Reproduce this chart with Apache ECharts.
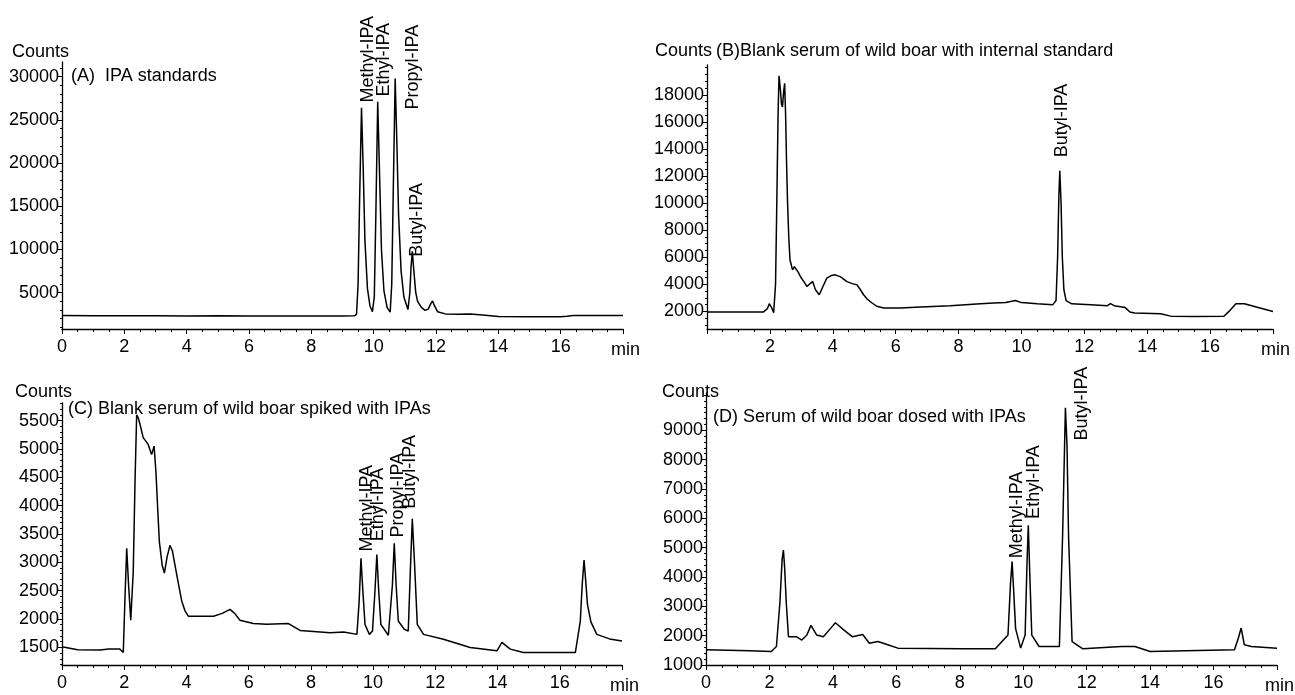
<!DOCTYPE html>
<html>
<head>
  <meta charset="UTF-8">
  <title>IPA chromatograms</title>
  <script src="https://cdn.jsdelivr.net/npm/echarts@6/dist/echarts.min.js"></script>
  <style>
    html, body { margin: 0; padding: 0; background: #fff; }
    #main { width: 1295px; height: 695px; }
  </style>
</head>
<body>
<div id="main"></div>
<script>
  // chromatogram traces, [time (min), counts]
  var traceA = [[0,2350],[1,2340],[2,2320],[3,2330],[4,2300],[5,2320],[6,2300],[7,2310],[8,2300],[9,2310],[9.38,2330],[9.45,2500],[9.5,6000],[9.55,16000],[9.61,26400],[9.66,20000],[9.72,11000],[9.8,5500],[9.88,3500],[9.96,2800],[10.02,4500],[10.07,14000],[10.13,27100],[10.18,20000],[10.25,10000],[10.33,5200],[10.43,3300],[10.53,2750],[10.58,6000],[10.63,17000],[10.69,29800],[10.74,23000],[10.8,14000],[10.88,7500],[10.97,4500],[11.1,3050],[11.16,5000],[11.2,8000],[11.24,9800],[11.29,7500],[11.35,5000],[11.41,4000],[11.46,3900],[11.53,3300],[11.65,2950],[11.75,3100],[11.83,3700],[11.89,4050],[11.95,3500],[12.05,2800],[12.3,2550],[12.7,2500],[13.1,2550],[13.5,2420],[14,2250],[15,2230],[16,2220],[16.2,2280],[16.4,2360],[17,2350],[18,2350]];
  var traceB = [[0,1950],[1,1950],[1.8,1960],[1.92,2200],[1.98,2570],[2.05,2300],[2.12,1900],[2.18,4000],[2.22,10000],[2.26,16500],[2.29,19400],[2.33,18500],[2.37,17300],[2.4,17100],[2.44,18300],[2.47,18850],[2.5,16500],[2.53,13000],[2.56,10200],[2.6,7500],[2.64,5800],[2.72,5070],[2.78,5300],[2.83,5430],[2.9,4900],[2.97,4580],[3.08,4200],[3.18,3840],[3.28,4050],[3.36,4200],[3.45,3600],[3.57,3230],[3.68,3800],[3.81,4460],[3.95,4650],[4.08,4700],[4.25,4550],[4.45,4200],[4.62,4050],[4.77,3960],[4.88,3600],[4.98,3230],[5.1,2900],[5.25,2620],[5.4,2380],[5.62,2250],[6.15,2250],[6.8,2320],[7.74,2420],[8.69,2570],[9.12,2620],[9.5,2650],[9.81,2810],[10,2650],[10.5,2560],[11,2500],[11.1,2800],[11.15,6000],[11.19,10500],[11.22,12380],[11.26,10000],[11.3,6000],[11.35,3600],[11.42,2800],[11.6,2560],[12.2,2500],[12.73,2420],[12.83,2570],[12.95,2420],[13.3,2280],[13.45,1950],[13.6,1880],[14.43,1830],[14.75,1650],[15.5,1630],[16.44,1640],[16.6,2000],[16.82,2570],[17.09,2570],[17.5,2300],[18,2000]];
  var traceC = [[0,1510],[0.5,1460],[1.22,1455],[1.5,1470],[1.86,1470],[1.97,1410],[2.02,2300],[2.08,3250],[2.14,2600],[2.21,1980],[2.29,2840],[2.35,4500],[2.4,5600],[2.45,5550],[2.51,5430],[2.61,5200],[2.77,5080],[2.88,4900],[2.93,4920],[2.96,5050],[3.02,4590],[3.08,3900],[3.13,3360],[3.22,2950],[3.29,2810],[3.38,3100],[3.47,3300],[3.55,3200],[3.63,2955],[3.75,2600],[3.85,2315],[3.95,2150],[4.06,2050],[4.44,2050],[4.87,2050],[5.15,2100],[5.4,2170],[5.55,2100],[5.72,1980],[6.15,1920],[6.58,1910],[7.28,1920],[7.65,1800],[8.62,1760],[9.05,1770],[9.48,1730],[9.55,2300],[9.61,3070],[9.67,2500],[9.74,1905],[9.88,1730],[9.98,1790],[10.06,2500],[10.12,3140],[10.18,2500],[10.25,1905],[10.49,1715],[10.62,2600],[10.68,3335],[10.74,2600],[10.81,1965],[11,1820],[11.13,1790],[11.2,2900],[11.26,3770],[11.33,3000],[11.42,1905],[11.62,1730],[12.26,1645],[13.12,1500],[13.98,1440],[14.14,1590],[14.41,1470],[14.83,1410],[16.5,1410],[16.66,1965],[16.72,2600],[16.78,3040],[16.83,2700],[16.89,2260],[17,1950],[17.19,1730],[17.6,1650],[18,1615]];
  var traceD = [[0,1520],[1.37,1485],[2.06,1460],[2.22,1630],[2.33,3130],[2.4,4600],[2.44,4920],[2.48,4300],[2.53,3130],[2.6,1960],[2.86,1960],[3.02,1850],[3.18,2020],[3.31,2350],[3.49,2020],[3.7,1960],[3.92,2240],[4.08,2440],[4.35,2190],[4.62,1960],[4.94,2040],[5.15,1740],[5.42,1800],[5.73,1690],[6.05,1575],[8.06,1550],[9.12,1550],[9.52,2020],[9.6,3800],[9.65,4530],[9.7,3500],[9.76,2240],[9.92,1575],[10.06,2020],[10.12,4500],[10.16,5760],[10.21,4000],[10.27,2020],[10.5,1630],[11.14,1630],[11.24,5360],[11.33,9770],[11.38,8500],[11.43,5360],[11.54,1800],[11.88,1550],[13.1,1630],[13.52,1630],[14,1460],[16.66,1520],[16.78,1910],[16.87,2260],[16.97,1690],[17.19,1630],[18,1575]];

  // peak annotations: name, time, counts at the foot of the text
  var peakNamesA = ['Methyl-IPA', 'Ethyl-IPA', 'Propyl-IPA', 'Butyl-IPA'];
  var peakTimesA = [9.81, 10.32, 11.25, 11.38];
  var peakFootA = [27000, 27700, 26200, 9170];
  var peakNamesB = ['Butyl-IPA'];
  var peakTimesB = [11.3];
  var peakFootB = [13380];
  var peakNamesC = ['Methyl-IPA', 'Ethyl-IPA', 'Propyl-IPA', 'Butyl-IPA'];
  var peakTimesC = [9.82, 10.15, 10.81, 11.19];
  var peakFootC = [3190, 3370, 3440, 3945];
  var peakNamesD = ['Methyl-IPA', 'Ethyl-IPA', 'Butyl-IPA'];
  var peakTimesD = [9.79, 10.34, 11.86];
  var peakFootD = [4640, 5980, 8650];

  // y tick labels
  var yTicksA = [5000, 10000, 15000, 20000, 25000, 30000];
  var yTicksB = [2000, 4000, 6000, 8000, 10000, 12000, 14000, 16000, 18000];
  var yTicksC = [1500, 2000, 2500, 3000, 3500, 4000, 4500, 5000, 5500];
  var yTicksD = [1000, 2000, 3000, 4000, 5000, 6000, 7000, 8000, 9000];

  var titles = ['(A)  IPA standards', '(B)Blank serum of wild boar with internal standard',
    '(C) Blank serum of wild boar spiked with IPAs', '(D) Serum of wild boar dosed with IPAs'];

  var font = 'Liberation Sans, Arial, sans-serif';

  function steps(a, b, s) {
    var out = [];
    for (var v = a; v <= b + 1e-9; v += s) out.push(v);
    return out;
  }

  var panels = [
    { grid: {left: 62, top: 62, width: 561, height: 267}, yMin: 800, yMax: 31700, ticks: yTicksA, minor: steps(1000, 31000, 1000),
      trace: traceA, names: peakNamesA, times: peakTimesA, foot: peakFootA, zero: true,
      counts: {left: 12, top: 43}, title: {left: 71, top: 67} },
    { grid: {left: 707, top: 65, width: 566, height: 264}, yMin: 700, yMax: 20200, ticks: yTicksB, minor: steps(1000, 20000, 500),
      trace: traceB, names: peakNamesB, times: peakTimesB, foot: peakFootB, zero: false,
      counts: {left: 655, top: 42}, title: {left: 716, top: 42} },
    { grid: {left: 62, top: 403, width: 560, height: 265}, yMin: 1190, yMax: 5810, ticks: yTicksC, minor: steps(1200, 5800, 100),
      trace: traceC, names: peakNamesC, times: peakTimesC, foot: peakFootC, zero: true,
      counts: {left: 15, top: 383}, title: {left: 68, top: 400} },
    { grid: {left: 706, top: 393, width: 571, height: 278}, yMin: 1000, yMax: 10270, ticks: yTicksD, minor: steps(1200, 10200, 200),
      trace: traceD, names: peakNamesD, times: peakTimesD, foot: peakFootD, zero: true,
      counts: {left: 662, top: 383}, title: {left: 713, top: 408} }
  ];

  var txt = {color: '#000', fontSize: 18, fontFamily: font, fontWeight: 'normal'};
  var option = {animation: false, title: [], grid: [], xAxis: [], yAxis: [], series: []};

  panels.forEach(function (p, i) {
    option.title.push({text: 'Counts', left: p.counts.left, top: p.counts.top, padding: 0, textStyle: txt});
    option.title.push({text: titles[i], left: p.title.left, top: p.title.top, padding: 0, textStyle: txt});
    option.grid.push(p.grid);
    option.xAxis.push({
      type: 'value', gridIndex: i, min: 0, max: 18, interval: 2,
      axisLine: {show: true, onZero: false, lineStyle: {color: '#000', width: 1.3}},
      axisTick: {show: true, length: 5, lineStyle: {color: '#000'}},
      minorTick: {show: true, splitNumber: 4, length: 3, lineStyle: {color: '#000'}},
      splitLine: {show: false},
      axisLabel: Object.assign({margin: 9, showMaxLabel: false, showMinLabel: p.zero,
        formatter: function (v) { return String(v); }}, txt),
      name: 'min', nameLocation: 'end', nameGap: -12,
      nameTextStyle: Object.assign({verticalAlign: 'top', padding: [12, 0, 0, 0]}, txt)
    });
    option.yAxis.push({
      type: 'value', gridIndex: i, position: 'left', min: p.yMin, max: p.yMax,
      axisLine: {show: true, onZero: false, lineStyle: {color: '#000', width: 1.3}},
      axisTick: {show: true, length: 4, customValues: p.ticks, lineStyle: {color: '#000'}},
      axisLabel: Object.assign({margin: 3, customValues: p.ticks,
        formatter: function (v) { return String(v); }}, txt),
      splitLine: {show: false}
    });
    option.yAxis.push({
      type: 'value', gridIndex: i, position: 'left', offset: 0, min: p.yMin, max: p.yMax,
      axisLine: {show: false},
      axisTick: {show: true, length: 2, customValues: p.minor, lineStyle: {color: '#000'}},
      axisLabel: {show: false},
      splitLine: {show: false}
    });
    option.series.push({
      type: 'line', xAxisIndex: i, yAxisIndex: 2 * i, data: p.trace,
      showSymbol: false, symbol: 'none', silent: true,
      lineStyle: {color: '#000', width: 1.5},
      markPoint: {
        symbol: 'circle', symbolSize: 0, silent: true,
        label: Object.assign({show: true, position: 'inside', rotate: 90, align: 'left', verticalAlign: 'middle',
          formatter: function (d) { return d.name; }}, txt),
        data: p.names.map(function (n, k) { return {name: n, coord: [p.times[k], p.foot[k]]}; })
      }
    });
  });

  echarts.init(document.getElementById('main')).setOption(option);
</script>
</body>
</html>
